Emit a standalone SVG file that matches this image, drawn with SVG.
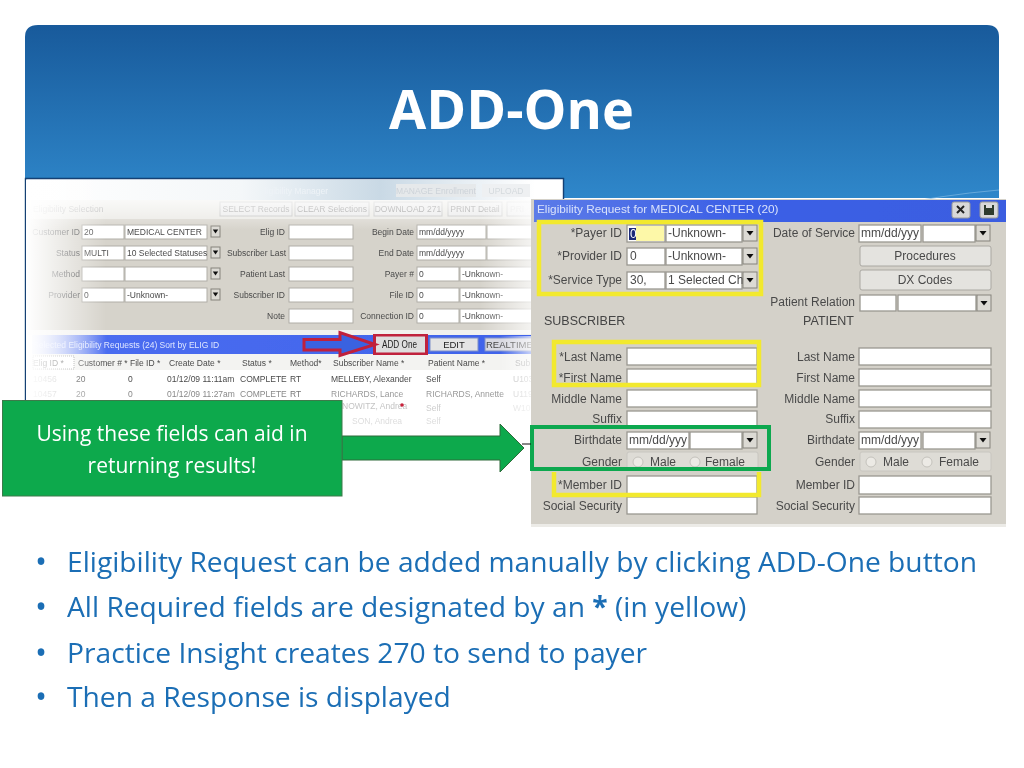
<svg xmlns="http://www.w3.org/2000/svg" width="1024" height="768" viewBox="0 0 1024 768">
<style>
text{font-family:"Liberation Sans",Arial,sans-serif;fill:#3d3d3d}
.t{font-size:8.5px;fill:#4a4a4a}
.r{text-anchor:end}
.d{font-size:12px;fill:#4a4a4a}
.h{font-size:12.5px;fill:#444}
.f{fill:#fff;stroke:#b0aea7;stroke-width:1}
.g{fill:#fff;stroke:#9a9891;stroke-width:1.3}
.b{fill:#e9e9e9;stroke:#bdbdbd;stroke-width:1}
.y{fill:none;stroke:#f2e92e;stroke-width:4.5}
.bul{font-family:"Open Sans","Liberation Sans",sans-serif;font-size:28.2px;fill:#1b6eb5}
.dot{font-family:"Open Sans","Liberation Sans",sans-serif;font-size:32px;fill:#1b6eb5}
</style>
<defs>
<linearGradient id="hd" x1="0" y1="0" x2="0" y2="1"><stop offset="0" stop-color="#185a9b"/><stop offset="1" stop-color="#2f87ca"/></linearGradient>
<linearGradient id="fl" x1="0" y1="0" x2="1" y2="0"><stop offset="0" stop-color="#fff"/><stop offset="0.75" stop-color="#fff" stop-opacity="0.25"/><stop offset="1" stop-color="#fff" stop-opacity="0"/></linearGradient>
<linearGradient id="ft" x1="0" y1="0" x2="0" y2="1"><stop offset="0" stop-color="#fff" stop-opacity="0.75"/><stop offset="1" stop-color="#fff" stop-opacity="0"/></linearGradient>
<linearGradient id="fr" x1="0" y1="0" x2="1" y2="0"><stop offset="0" stop-color="#fff" stop-opacity="0"/><stop offset="1" stop-color="#fff" stop-opacity="0.8"/></linearGradient>
<linearGradient id="tb" x1="0" y1="0" x2="1" y2="0"><stop offset="0" stop-color="#fff"/><stop offset="0.4" stop-color="#f4f7f9"/><stop offset="0.66" stop-color="#c9d9e5"/><stop offset="0.95" stop-color="#fff"/></linearGradient>
<linearGradient id="bb" x1="0" y1="0" x2="1" y2="0"><stop offset="0" stop-color="#dfe4fa"/><stop offset="0.15" stop-color="#4a6cf0"/><stop offset="1" stop-color="#3f63ea"/></linearGradient>
<linearGradient id="ti" x1="0" y1="0" x2="1" y2="0"><stop offset="0" stop-color="#5c7be8"/><stop offset="0.45" stop-color="#3b5fe6"/><stop offset="1" stop-color="#3a5de0"/></linearGradient>
<filter id="bl" x="-2%" y="-2%" width="104%" height="104%"><feGaussianBlur stdDeviation="0.45"/></filter>
<g id="dd"><rect width="9" height="11" fill="#dcdad4" stroke="#85837c"/><path d="M1.800 3.500h5.400l-2.700 4z" fill="#111"/></g>
<g id="dd2"><rect width="14" height="16" fill="#dcdad4" stroke="#85837c"/><path d="M3.500 6h7l-3.500 4.500z" fill="#111"/></g>
</defs>

<rect width="1024" height="768" fill="#fff"/>
<g id="header">
<path d="M38 25H987Q999 25 999 37V198H25V37Q25 25 38 25Z" fill="url(#hd)"/>
<path d="M880 208Q940 195 999 190" fill="none" stroke="#7db8e2" stroke-width="0.7"/>
<text x="511.500" y="129" text-anchor="middle" style="font-family:'Open Sans','Liberation Sans',sans-serif;font-size:54px;font-weight:700;fill:#fff">ADD-One</text>
</g>

<g id="eligibility-manager" filter="url(#bl)">
<rect x="25" y="178" width="539" height="260" fill="#fff"/>
<path d="M25.500 438V178.500H563.500V200" fill="none" stroke="#123f73" stroke-width="1.400"/>
<rect x="27" y="180" width="535" height="20" fill="url(#tb)"/>
<text x="259" y="194" class="t" style="fill:#eef3f7">Eligibility Manager</text>
<rect x="396" y="184" width="80" height="13" fill="#e6e9eb"/><text x="436" y="194" class="t" text-anchor="middle" style="fill:#cdd3d9">MANAGE Enrollment</text>
<rect x="482" y="184" width="48" height="13" fill="#eef0f2"/><text x="506" y="194" class="t" text-anchor="middle" style="fill:#d5dade">UPLOAD</text>
<rect x="27" y="200" width="510" height="19" fill="#e9e8e3"/>
<text x="33" y="212" class="t" style="fill:#9a9a9a">Eligibility Selection</text>
<rect x="220" y="202" width="72" height="14" class="b"/><text x="256" y="212" class="t" text-anchor="middle" style="fill:#999">SELECT Records</text>
<rect x="295" y="202" width="74" height="14" class="b"/><text x="332" y="212" class="t" text-anchor="middle" style="fill:#888">CLEAR Selections</text>
<rect x="374" y="202" width="68" height="14" class="b"/><text x="408" y="212" class="t" text-anchor="middle" style="fill:#888">DOWNLOAD 271</text>
<rect x="448" y="202" width="54" height="14" class="b"/><text x="475" y="212" class="t" text-anchor="middle" style="fill:#888">PRINT Detail</text>
<rect x="507" y="202" width="26" height="14" class="b"/><text x="510" y="212" class="t" style="fill:#ccc">PRI</text>
<rect x="27" y="219" width="510" height="111" fill="#d6d3cb"/>

<g id="selection-fields">
<text x="80" y="235" class="t r">Customer ID</text><rect x="82" y="225" width="42" height="14" class="f"/><text x="84" y="235" class="t">20</text><rect x="125" y="225" width="82" height="14" class="f"/><text x="127" y="235" class="t">MEDICAL CENTER</text><use href="#dd" x="211" y="226"/>
<text x="80" y="256" class="t r">Status</text><rect x="82" y="246" width="42" height="14" class="f"/><text x="84" y="256" class="t">MULTI</text><rect x="125" y="246" width="82" height="14" class="f"/><text x="127" y="256" class="t">10 Selected Statuses</text><use href="#dd" x="211" y="247"/>
<text x="80" y="277" class="t r">Method</text><rect x="82" y="267" width="42" height="14" class="f"/><rect x="125" y="267" width="82" height="14" class="f"/><use href="#dd" x="211" y="268"/>
<text x="80" y="298" class="t r">Provider</text><rect x="82" y="288" width="42" height="14" class="f"/><text x="84" y="298" class="t">0</text><rect x="125" y="288" width="82" height="14" class="f"/><text x="127" y="298" class="t">-Unknown-</text><use href="#dd" x="211" y="289"/>

<text x="285" y="235" class="t r">Elig ID</text><rect x="289" y="225" width="64" height="14" class="f"/>
<text x="286" y="256" class="t r">Subscriber Last</text><rect x="289" y="246" width="64" height="14" class="f"/>
<text x="285" y="277" class="t r">Patient Last</text><rect x="289" y="267" width="64" height="14" class="f"/>
<text x="285" y="298" class="t r">Subscriber ID</text><rect x="289" y="288" width="64" height="14" class="f"/>
<text x="285" y="319" class="t r">Note</text><rect x="289" y="309" width="64" height="14" class="f"/>

<text x="414" y="235" class="t r">Begin Date</text><rect x="417" y="225" width="69" height="14" class="f"/><text x="419" y="235" class="t">mm/dd/yyyy</text><rect x="487" y="225" width="48" height="14" class="f"/>
<text x="414" y="256" class="t r">End Date</text><rect x="417" y="246" width="69" height="14" class="f"/><text x="419" y="256" class="t">mm/dd/yyyy</text><rect x="487" y="246" width="48" height="14" class="f"/>
<text x="414" y="277" class="t r">Payer #</text><rect x="417" y="267" width="42" height="14" class="f"/><text x="419" y="277" class="t">0</text><rect x="460" y="267" width="75" height="14" class="f"/><text x="462" y="277" class="t">-Unknown-</text>
<text x="414" y="298" class="t r">File ID</text><rect x="417" y="288" width="42" height="14" class="f"/><text x="419" y="298" class="t">0</text><rect x="460" y="288" width="75" height="14" class="f"/><text x="462" y="298" class="t">-Unknown-</text>
<text x="414" y="319" class="t r">Connection ID</text><rect x="417" y="309" width="42" height="14" class="f"/><text x="419" y="319" class="t">0</text><rect x="460" y="309" width="75" height="14" class="f"/><text x="462" y="319" class="t">-Unknown-</text>
</g>
<rect x="27" y="330" width="510" height="5" fill="#f1f1ee"/>
<rect x="32" y="335" width="500" height="19" fill="url(#bb)"/>
<text x="33" y="348" class="t" style="fill:#dfe6ff">Selected Eligibility Requests   (24) Sort by ELIG ID</text>
<rect x="430" y="338" width="48" height="13" fill="#e4e4e4" stroke="#7f8fc8"/><text x="454" y="348" class="t" text-anchor="middle" style="fill:#222;font-size:9.5px">EDIT</text>
<rect x="485" y="338" width="48" height="13" fill="#d8d8e0" stroke="#7f8fc8"/><text x="486" y="348" class="t" style="fill:#444;font-size:9.5px">REALTIME</text>

<g id="table">
<rect x="32" y="354" width="500" height="16" fill="#f3f3f1"/>
<rect x="33" y="356" width="41" height="13" fill="#fff" stroke="#999" stroke-dasharray="1 1"/>
<text x="33" y="366" class="t">Elig ID *</text><text x="78" y="366" class="t">Customer # *</text><text x="130" y="366" class="t">File ID *</text><text x="169" y="366" class="t">Create Date *</text><text x="242" y="366" class="t">Status *</text><text x="290" y="366" class="t">Method*</text><text x="333" y="366" class="t">Subscriber Name *</text><text x="428" y="366" class="t">Patient Name *</text><text x="515" y="366" class="t" style="fill:#aaa">Sub</text>
<text x="33" y="382" class="t" style="fill:#bbb">10456</text><text x="76" y="382" class="t">20</text><text x="128" y="382" class="t">0</text><text x="167" y="382" class="t">01/12/09 11:11am</text><text x="240" y="382" class="t">COMPLETE</text><text x="290" y="382" class="t">RT</text><text x="331" y="382" class="t">MELLEBY, Alexander</text><text x="426" y="382" class="t">Self</text><text x="513" y="382" class="t" style="fill:#bbb">U103</text>
<text x="33" y="397" class="t" style="fill:#bbb">10457</text><text x="76" y="397" class="t" style="fill:#888">20</text><text x="128" y="397" class="t" style="fill:#888">0</text><text x="167" y="397" class="t" style="fill:#888">01/12/09 11:27am</text><text x="240" y="397" class="t" style="fill:#888">COMPLETE</text><text x="290" y="397" class="t" style="fill:#777">RT</text><text x="331" y="397" class="t" style="fill:#999">RICHARDS, Lance</text><text x="426" y="397" class="t" style="fill:#999">RICHARDS, Annette</text><text x="513" y="397" class="t" style="fill:#ccc">U119</text>
<text x="342" y="409" class="t" style="fill:#c4c4c4">NOWITZ, Andrea</text><circle cx="402" cy="405" r="1.800" fill="#c8203a"/><text x="426" y="411" class="t" style="fill:#ccc">Self</text><text x="513" y="411" class="t" style="fill:#ddd">W10</text>
<text x="352" y="424" class="t" style="fill:#ddd">SON, Andrea</text><text x="426" y="424" class="t" style="fill:#ddd">Self</text>
</g>
<rect x="26" y="180" width="80" height="255" fill="url(#fl)"/>
<rect x="26" y="200" width="510" height="30" fill="url(#ft)"/>
<rect x="480" y="200" width="56" height="134" fill="url(#fr)"/>
<rect x="500" y="336" width="36" height="100" fill="url(#fr)"/>
</g>

<g id="add-one-highlight" filter="url(#bl)">
<rect x="375" y="335" width="51" height="18" fill="#dedede"/>
<text x="382" y="348" class="t" textLength="35" lengthAdjust="spacingAndGlyphs" style="fill:#222;font-size:10px">ADD One</text>
<rect x="374.500" y="335" width="52" height="19" fill="none" stroke="#c0203c" stroke-width="3"/>
</g>

<g id="eligibility-request" filter="url(#bl)">
<rect x="531" y="199" width="475" height="328" fill="#d4d1c9"/>
<rect x="531" y="524" width="475" height="3" fill="#ecebe7"/>
<rect x="534" y="200" width="472" height="22" fill="url(#ti)"/>
<text x="537" y="213" style="font-size:11.8px;fill:#d9e2fb">Eligibility Request for MEDICAL CENTER (20)</text>
<rect x="952" y="202" width="18" height="16" rx="2" fill="#d8d8d8" stroke="#9a9a9a"/><path d="M957 206l7 7M964 206l-7 7" stroke="#222" stroke-width="2"/>
<rect x="980" y="202" width="18" height="16" rx="2" fill="#d8d8d8" stroke="#9a9a9a"/><rect x="984" y="205" width="10" height="10" fill="#2d3a2d"/><rect x="986" y="205" width="6" height="3" fill="#ddd"/>

<g id="subscriber-fields">
<text x="622" y="237" class="d r">*Payer ID</text><rect x="627" y="225" width="38" height="17" class="g"/><rect x="636" y="226" width="28" height="15" fill="#fdf8a8"/><rect x="629" y="228" width="7" height="12" fill="#1b2a78"/><text x="630" y="238" class="d" style="fill:#fff">0</text><rect x="666" y="225" width="76" height="17" class="g"/><text x="668" y="237" class="d">-Unknown-</text><use href="#dd2" x="743" y="225"/>
<text x="622" y="260" class="d r">*Provider ID</text><rect x="627" y="248" width="38" height="17" class="g"/><text x="630" y="260" class="d">0</text><rect x="666" y="248" width="76" height="17" class="g"/><text x="668" y="260" class="d">-Unknown-</text><use href="#dd2" x="743" y="248"/>
<text x="622" y="284" class="d r">*Service Type</text><rect x="627" y="272" width="38" height="17" class="g"/><text x="630" y="284" class="d">30,</text><rect x="666" y="272" width="76" height="17" class="g"/><text x="668" y="284" class="d">1 Selected Ch</text><use href="#dd2" x="743" y="272"/>
<text x="544" y="325" class="h">SUBSCRIBER</text>
<text x="622" y="361" class="d r">*Last Name</text><rect x="627" y="348" width="130" height="17" class="g"/>
<text x="622" y="382" class="d r">*First Name</text><rect x="627" y="369" width="130" height="17" class="g"/>
<text x="622" y="403" class="d r">Middle Name</text><rect x="627" y="390" width="130" height="17" class="g"/>
<text x="622" y="423" class="d r">Suffix</text><rect x="627" y="411" width="130" height="17" class="g"/>
<text x="622" y="444" class="d r">Birthdate</text><rect x="627" y="432" width="62" height="17" class="g"/><text x="629" y="444" class="d">mm/dd/yyy</text><rect x="690" y="432" width="52" height="17" class="g"/><use href="#dd2" x="743" y="432"/>
<text x="622" y="466" class="d r">Gender</text><rect x="627" y="452" width="131" height="18" rx="2" fill="#dedcd6" stroke="#c8c6c0"/><circle cx="638" cy="462" r="5" fill="#eceae5" stroke="#c4c2bc"/><text x="650" y="466" class="d">Male</text><circle cx="695" cy="462" r="5" fill="#eceae5" stroke="#c4c2bc"/><text x="705" y="466" class="d">Female</text>
<text x="622" y="489" class="d r">*Member ID</text><rect x="627" y="476" width="130" height="18" class="g"/>
<text x="622" y="510" class="d r">Social Security</text><rect x="627" y="497" width="130" height="17" class="g"/>
</g>

<g id="patient-fields">
<text x="855" y="237" class="d r">Date of Service</text><rect x="859" y="225" width="62" height="17" class="g"/><text x="861" y="237" class="d">mm/dd/yyy</text><rect x="923" y="225" width="52" height="17" class="g"/><use href="#dd2" x="976" y="225"/>
<rect x="860" y="246" width="131" height="20" rx="2" fill="#e4e3df" stroke="#aaa8a2"/><text x="925" y="260" class="d" text-anchor="middle">Procedures</text>
<rect x="860" y="270" width="131" height="20" rx="2" fill="#e4e3df" stroke="#aaa8a2"/><text x="925" y="284" class="d" text-anchor="middle">DX Codes</text>
<text x="855" y="306" class="d r">Patient Relation</text><rect x="860" y="295" width="36" height="16" class="g"/><rect x="898" y="295" width="78" height="16" class="g"/><use href="#dd2" x="977" y="295"/>
<text x="854" y="325" class="h r">PATIENT</text>
<text x="855" y="361" class="d r">Last Name</text><rect x="859" y="348" width="132" height="17" class="g"/>
<text x="855" y="382" class="d r">First Name</text><rect x="859" y="369" width="132" height="17" class="g"/>
<text x="855" y="403" class="d r">Middle Name</text><rect x="859" y="390" width="132" height="17" class="g"/>
<text x="855" y="423" class="d r">Suffix</text><rect x="859" y="411" width="132" height="17" class="g"/>
<text x="855" y="444" class="d r">Birthdate</text><rect x="859" y="432" width="62" height="17" class="g"/><text x="861" y="444" class="d">mm/dd/yyy</text><rect x="923" y="432" width="52" height="17" class="g"/><use href="#dd2" x="976" y="432"/>
<text x="855" y="466" class="d r">Gender</text><rect x="860" y="452" width="131" height="19" rx="2" fill="#dedcd6" stroke="#c8c6c0"/><circle cx="871" cy="462" r="5" fill="#eceae5" stroke="#c4c2bc"/><text x="883" y="466" class="d">Male</text><circle cx="927" cy="462" r="5" fill="#eceae5" stroke="#c4c2bc"/><text x="939" y="466" class="d">Female</text>
<text x="855" y="489" class="d r">Member ID</text><rect x="859" y="476" width="132" height="18" class="g"/>
<text x="855" y="510" class="d r">Social Security</text><rect x="859" y="497" width="132" height="17" class="g"/>
</g>

<g id="yellow-highlights">
<rect x="539" y="222" width="222" height="72" class="y"/>
<rect x="554" y="342" width="205" height="43" class="y"/>
<path d="M554 472V495H759V472" class="y"/>
</g>
<rect x="532" y="427" width="237" height="42" fill="none" stroke="#0aa84f" stroke-width="4"/>
</g>

<g id="connectors">
<path d="M304 339.500H340V332.500L375 344.500L340 355.500V350H304Z" fill="#3a62e0" stroke="#c0203c" stroke-width="3"/>
<path d="M342 436H500V424L524 448L500 472V460H342Z" fill="#0da94c" stroke="#2e6b3a" stroke-width="1"/>
<path d="M522 444H531" stroke="#111" stroke-width="1" fill="none"/>
</g>

<g id="callout">
<rect x="2.500" y="400.500" width="339.500" height="95.500" fill="#0da94c" stroke="#3d7a4a" stroke-width="1"/>
<text x="172" y="441" text-anchor="middle" style="font-family:'Open Sans','Liberation Sans',sans-serif;font-size:21px;fill:#fff">Using these fields can aid in</text>
<text x="172" y="473" text-anchor="middle" style="font-family:'Open Sans','Liberation Sans',sans-serif;font-size:21px;fill:#fff">returning results!</text>
</g>

<g id="bullets">
<text x="35" y="573" class="dot">•</text><text x="67" y="572" class="bul">Eligibility Request can be added manually by clicking ADD-One button</text>
<text x="35" y="618" class="dot">•</text><text x="67" y="617" class="bul">All Required fields are designated by an <tspan font-weight="700">*</tspan> (in yellow)</text>
<text x="35" y="664" class="dot">•</text><text x="67" y="663" class="bul">Practice Insight creates 270 to send to payer</text>
<text x="35" y="708" class="dot">•</text><text x="67" y="707" class="bul">Then a Response is displayed</text>
</g>
</svg>
